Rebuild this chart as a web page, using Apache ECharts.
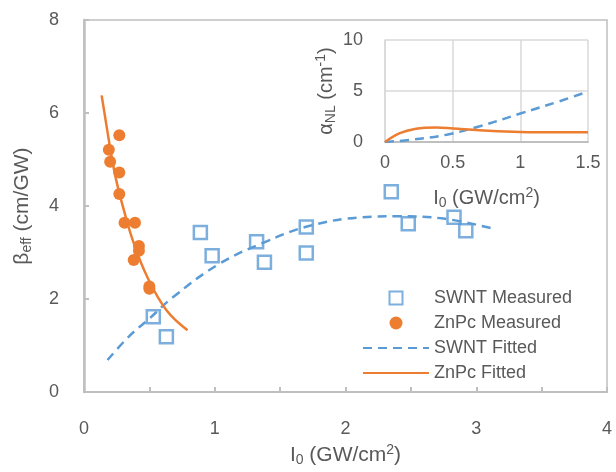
<!DOCTYPE html>
<html>
<head>
<meta charset="utf-8">
<script src="https://cdn.jsdelivr.net/npm/echarts@6/dist/echarts.min.js"></script>
<style>
html, body { margin: 0; padding: 0; background: #fff; }
#box { width: 616px; height: 472px; }
</style>
</head>
<body>
<div id="box"></div>
<script>
// measured points
var swntX = [0.53, 0.63, 0.89, 0.98, 1.32, 1.38, 1.70, 1.70, 2.35, 2.48, 2.83, 2.92];
var swntY = [1.62, 1.19, 3.43, 2.93, 3.23, 2.79, 3.55, 2.99, 4.31, 3.62, 3.76, 3.47];
var znpcX = [0.19, 0.20, 0.27, 0.27, 0.27, 0.31, 0.39, 0.42, 0.42, 0.38, 0.50, 0.50];
var znpcY = [5.21, 4.95, 5.52, 4.72, 4.26, 3.64, 3.64, 3.14, 3.04, 2.84, 2.27, 2.22];
// fitted curves
var swntFitX = [0.18, 0.345, 0.50, 0.68, 1.03, 1.37, 1.72, 2.13, 2.39, 2.75, 3.12];
var swntFitY = [0.69, 1.20, 1.58, 2.04, 2.75, 3.21, 3.57, 3.76, 3.78, 3.73, 3.52];
var znpcFitX = [0.135, 0.156, 0.197, 0.243, 0.307, 0.383, 0.485, 0.631, 0.792];
var znpcFitY = [6.38, 6.01, 5.30, 4.60, 3.89, 3.18, 2.47, 1.76, 1.33];
// inset: alpha_NL
var alphaZnpcX = [0, 0.11, 0.22, 0.38, 0.505, 0.70, 1.0, 1.29, 1.5];
var alphaZnpcY = [0, 0.86, 1.28, 1.42, 1.32, 1.15, 0.98, 0.95, 0.95];
var alphaSwntX = [0, 0.21, 0.456, 0.70, 1.0, 1.29, 1.5];
var alphaSwntY = [0, 0.24, 0.72, 1.54, 2.79, 4.0, 4.95];

function pairs(xs, ys) {
    return xs.map(function (x, i) { return [x, ys[i]]; });
}

var blue = '#5B9BD5';
var orange = '#ED7D31';
var txt = '#595959';
var axisGray = '#BFBFBF';
var font = 'Liberation Sans, Arial, sans-serif';

var subRich = {
    sub: {fontSize: 14, verticalAlign: 'bottom', padding: [10, 0, 0, 0], color: txt, fontFamily: font},
    sup: {fontSize: 14, verticalAlign: 'top', padding: [0, 0, 9, 0], color: txt, fontFamily: font}
};

var myChart = echarts.init(document.getElementById('box'));
var option = {
    backgroundColor: '#fff',
    textStyle: {fontFamily: font},
    animation: false,
    grid: [
        {left: 84, right: 9, top: 20, bottom: 76, show: true, borderColor: axisGray, borderWidth: 1.5},
        {left: 385, top: 40, width: 203, height: 102}
    ],
    legend: {
        orient: 'vertical',
        left: 357,
        top: 284,
        itemWidth: 66,
        itemHeight: 13,
        itemGap: 7,
        symbolKeepAspect: true,
        textStyle: {color: txt, fontSize: 18, fontFamily: font},
        data: [
            {name: 'SWNT Measured', icon: 'path://M0,0H10V10H0Z'},
            {name: 'ZnPc Measured', icon: 'circle'},
            {name: 'SWNT Fitted', itemStyle: {opacity: 0}},
            {name: 'ZnPc Fitted', itemStyle: {opacity: 0}}
        ]
    },
    xAxis: [
        {
            gridIndex: 0, type: 'value', min: 0, max: 4, interval: 0.5,
            name: 'I{sub|0} (GW/cm{sup|2})', nameLocation: 'middle', nameGap: 50,
            nameTextStyle: {color: txt, fontSize: 21, rich: subRich},
            axisLine: {lineStyle: {color: axisGray, width: 2}},
            axisTick: {inside: true, length: 5, lineStyle: {color: axisGray, width: 2}},
            axisLabel: {color: txt, fontSize: 18, margin: 28, formatter: function (v) {
                return v % 1 === 0 ? String(v) : '';
            }},
            splitLine: {show: false}
        },
        {
            gridIndex: 1, type: 'value', min: 0, max: 1.5, interval: 0.5,
            name: 'I{sub|0} (GW/cm{sup|2})', nameLocation: 'middle', nameGap: 44,
            nameTextStyle: {color: txt, fontSize: 20, rich: subRich},
            axisLine: {lineStyle: {color: axisGray, width: 2}},
            axisTick: {show: false},
            axisLabel: {color: txt, fontSize: 18, margin: 12},
            splitLine: {show: true, lineStyle: {color: '#D9D9D9', width: 1.5}}
        }
    ],
    yAxis: [
        {
            gridIndex: 0, type: 'value', min: 0, max: 8, interval: 2,
            name: 'β{sub|eff} (cm/GW)', nameLocation: 'middle', nameGap: 50,
            nameTextStyle: {color: txt, fontSize: 21, rich: subRich},
            axisLine: {show: true, lineStyle: {color: axisGray, width: 2.5}},
            axisTick: {show: true, inside: true, length: 5, lineStyle: {color: axisGray, width: 2}},
            axisLabel: {color: txt, fontSize: 18, margin: 25},
            splitLine: {show: false}
        },
        {
            gridIndex: 1, type: 'value', min: 0, max: 10, interval: 5,
            name: 'α{sub|NL} (cm{sup|-1})', nameLocation: 'middle', nameGap: 47,
            nameTextStyle: {color: txt, fontSize: 20, rich: subRich},
            axisLine: {show: true, lineStyle: {color: '#D9D9D9', width: 1.5}},
            axisTick: {show: false},
            axisLabel: {color: txt, fontSize: 18, margin: 22},
            splitLine: {show: true, lineStyle: {color: '#D9D9D9', width: 1.5}}
        }
    ],
    series: [
        {
            name: 'SWNT Fitted', type: 'line', xAxisIndex: 0, yAxisIndex: 0,
            data: pairs(swntFitX, swntFitY), smooth: 0.4, symbol: 'none',
            itemStyle: {color: blue},
            lineStyle: {color: blue, width: 2.5, type: [9, 6]}
        },
        {
            name: 'ZnPc Fitted', type: 'line', xAxisIndex: 0, yAxisIndex: 0,
            data: pairs(znpcFitX, znpcFitY), smooth: 0.4, symbol: 'none',
            itemStyle: {color: orange},
            lineStyle: {color: orange, width: 2.5}
        },
        {
            name: 'SWNT Measured', type: 'scatter', xAxisIndex: 0, yAxisIndex: 0,
            data: pairs(swntX, swntY), symbol: 'rect', symbolSize: 13,
            itemStyle: {color: 'rgba(0,0,0,0)', borderColor: blue, borderWidth: 2.5}
        },
        {
            name: 'ZnPc Measured', type: 'scatter', xAxisIndex: 0, yAxisIndex: 0,
            data: pairs(znpcX, znpcY), symbol: 'circle', symbolSize: 12,
            itemStyle: {color: orange, opacity: 1}
        },
        {
            name: 'inset SWNT', type: 'line', xAxisIndex: 1, yAxisIndex: 1,
            data: pairs(alphaSwntX, alphaSwntY), smooth: 0.4, symbol: 'none',
            lineStyle: {color: blue, width: 2.5, type: [9, 6]}
        },
        {
            name: 'inset ZnPc', type: 'line', xAxisIndex: 1, yAxisIndex: 1,
            data: pairs(alphaZnpcX, alphaZnpcY), smooth: 0.4, symbol: 'none',
            lineStyle: {color: orange, width: 2.5}
        }
    ]
};
myChart.setOption(option);
</script>
</body>
</html>
